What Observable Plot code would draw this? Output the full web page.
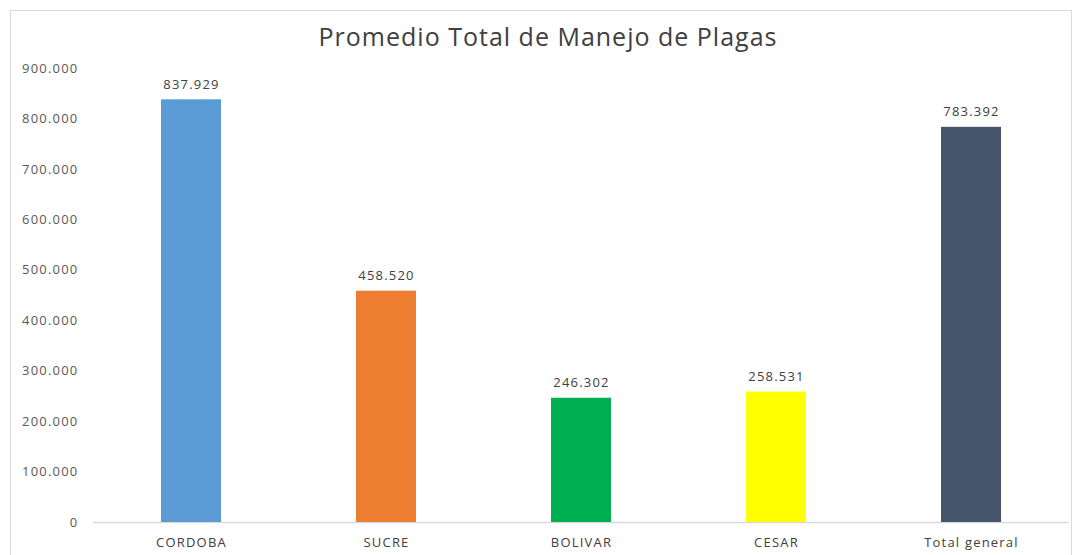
<!DOCTYPE html>
<html>
<head>
<meta charset="utf-8">
<script src="https://cdn.jsdelivr.net/npm/d3@7"></script>
<script src="https://cdn.jsdelivr.net/npm/@observablehq/plot@0.6"></script>
<style>
  html, body { margin: 0; padding: 0; background: #fff; }
  #wrap { position: relative; width: 1075px; height: 555px; overflow: hidden; }
  #frame { position: absolute; left: 10px; top: 10px; width: 1062px; height: 560px; border: 1px solid #d9d9d9; box-sizing: border-box; }
  #title { position: absolute; left: 0; top: 19px; width: 1096px; text-align: center; font-family: "Open Sans", sans-serif; font-size: 25px; letter-spacing: 1px; color: #404040; line-height: 34px; }
  #chart { position: absolute; left: 0; top: 60px; }
</style>
</head>
<body>
<div id="wrap">
  <div id="frame"></div>
  <div id="title">Promedio Total de Manejo de Plagas</div>
  <div id="chart"></div>
</div>
<script>
const categories = ["CORDOBA", "SUCRE", "BOLIVAR", "CESAR", "Total general"];
const values = [837929, 458520, 246302, 258531, 783392];
const colors = ["#5B9BD5", "#ED7D31", "#00B050", "#FFFF00", "#44546A"];
const yTicks = [0, 100000, 200000, 300000, 400000, 500000, 600000, 700000, 800000, 900000];

const data = categories.map((c, i) => ({category: c, value: values[i], color: colors[i]}));
const locale = d3.formatLocale({decimal: ",", thousands: ".", grouping: [3], currency: ["", ""]});
const fmt = locale.format(",d");

const chart = Plot.plot({
  width: 1075,
  height: 495,
  marginTop: 8,
  marginBottom: 33,
  marginLeft: 93,
  marginRight: 6,
  style: {fontFamily: "'Open Sans', sans-serif", background: "transparent", letterSpacing: "1.2px"},
  x: {domain: categories, paddingInner: 0.69, paddingOuter: 0.345, label: null},
  y: {domain: [0, 900000], label: null},
  marks: [
    Plot.ruleY([0], {stroke: "#d9d9d9", strokeWidth: 1.5}),
    Plot.barY(data, {x: "category", y: "value", fill: "color"}),
    Plot.text(data, {x: "category", y: "value", text: d => fmt(d.value), dy: -15, fontSize: 13, fill: "#404040"}),
    Plot.axisY({ticks: yTicks, tickFormat: fmt, tickSize: 0, tickPadding: 15, fontSize: 13, color: "#595959", label: null}),
    Plot.axisX({tickSize: 0, tickPadding: 15, fontSize: 13, color: "#404040", label: null})
  ]
});
document.getElementById("chart").appendChild(chart);
</script>
</body>
</html>
